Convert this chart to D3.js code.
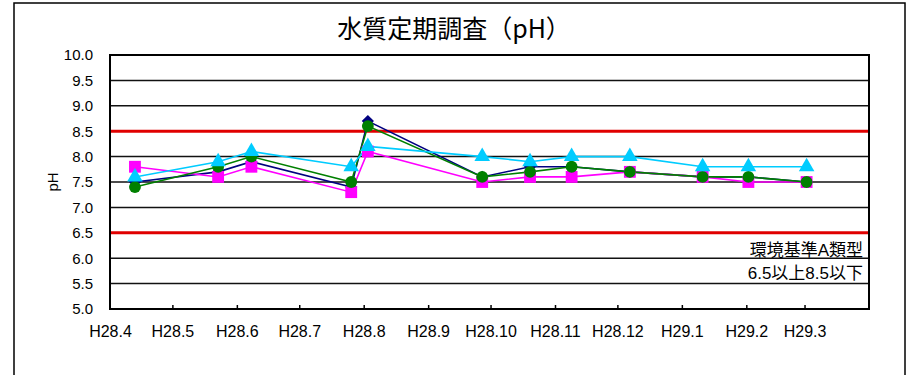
<!DOCTYPE html>
<html>
<head>
<meta charset="utf-8">
<script src="https://cdn.jsdelivr.net/npm/d3@7"></script>
<style>
  html, body { margin: 0; padding: 0; background: #fff; }
  svg { display: block; font-family: "Liberation Sans", Arial, "Noto Sans CJK JP", sans-serif; }
</style>
</head>
<body>
<svg id="chart" width="912" height="375"></svg>
<script>
// Survey dates (FY H28) and pH readings for four sampling points
const sampleDates = ["2016-04-13", "2016-05-23", "2016-06-08", "2016-07-26", "2016-08-03",
                     "2016-09-27", "2016-10-20", "2016-11-09", "2016-12-07", "2017-01-11",
                     "2017-02-02", "2017-03-02"];
const seriesNavy    = [7.5, 7.7, 7.9, 7.4, 8.7, 7.6, 7.8, 7.8, 7.7, 7.6, 7.6, 7.5];
const seriesMagenta = [7.8, 7.6, 7.8, 7.3, 8.1, 7.5, 7.6, 7.6, 7.7, 7.6, 7.5, 7.5];
const seriesGreen   = [7.4, 7.8, 8.0, 7.5, 8.6, 7.6, 7.7, 7.8, 7.7, 7.6, 7.6, 7.5];
const seriesCyan    = [7.6, 7.9, 8.1, 7.8, 8.2, 8.0, 7.9, 8.0, 8.0, 7.8, 7.8, 7.8];

// Environmental standard (class A): 6.5 – 8.5
const standardLimits = [6.5, 8.5];
const yTicks = [5.0, 5.5, 6.0, 6.5, 7.0, 7.5, 8.0, 8.5, 9.0, 9.5, 10.0];
const monthLabels = ["H28.4", "H28.5", "H28.6", "H28.7", "H28.8", "H28.9", "H28.10",
                     "H28.11", "H28.12", "H29.1", "H29.2", "H29.3"];
const titleText = "水質定期調査（pH）";
const yAxisTitle = "pH";
const noteLines = ["環境基準A類型", "6.5以上8.5以下"];

const parse = d3.timeParse("%Y-%m-%d");
const dates = sampleDates.map(parse);

const series = [
  { values: seriesNavy,    color: "#000080", symbol: d3.symbolDiamond2, size: 95 },
  { values: seriesMagenta, color: "#ff00ff", symbol: d3.symbolSquare,   size: 140 },
  { values: seriesGreen,   color: "#008000", symbol: d3.symbolCircle,   size: 110 },
  { values: seriesCyan,    color: "#00ccff", symbol: d3.symbolTriangle, size: 105 }
];

const svg = d3.select("#chart");
const plot = { left: 110, right: 869, top: 55, bottom: 309 };

// Outer chart frame
svg.append("rect")
  .attr("x", 14).attr("y", 3).attr("width", 891).attr("height", 400)
  .attr("fill", "none").attr("stroke", "#000").attr("stroke-width", 1.5);

// Title
svg.append("text")
  .attr("x", 454).attr("y", 38)
  .attr("text-anchor", "middle")
  .attr("font-family", "'Noto Sans CJK JP', sans-serif")
  .attr("font-size", 25)
  .text(titleText);

const x = d3.scaleTime()
  .domain([new Date(2016, 3, 1), new Date(2017, 3, 1)])
  .range([plot.left, plot.right]);
const y = d3.scaleLinear().domain([5, 10]).range([plot.bottom, plot.top]);

// Horizontal gridlines
svg.append("g").selectAll("line")
  .data(yTicks)
  .join("line")
  .attr("x1", plot.left).attr("x2", plot.right)
  .attr("y1", d => y(d)).attr("y2", d => y(d))
  .attr("stroke", "#111").attr("stroke-width", 1.5);

// Standard limit lines
svg.append("g").selectAll("line")
  .data(standardLimits)
  .join("line")
  .attr("x1", plot.left).attr("x2", plot.right)
  .attr("y1", d => y(d)).attr("y2", d => y(d))
  .attr("stroke", "#e00000").attr("stroke-width", 3);

// Plot frame
svg.append("rect")
  .attr("x", plot.left).attr("y", plot.top)
  .attr("width", plot.right - plot.left).attr("height", plot.bottom - plot.top)
  .attr("fill", "none").attr("stroke", "#000").attr("stroke-width", 2);

// Y axis labels
const yAxis = d3.axisLeft(y).tickValues(yTicks).tickSize(0).tickPadding(17)
  .tickFormat(d3.format(".1f"));
const gy = svg.append("g").attr("transform", `translate(${plot.left},0)`).call(yAxis);
gy.select(".domain").remove();
gy.selectAll("text").attr("font-size", 15).attr("font-family", "'Liberation Sans', Arial, sans-serif").attr("fill", "#000");

// X axis: month ticks pointing inward, labels at month starts
const monthStarts = d3.timeMonth.range(new Date(2016, 3, 1), new Date(2017, 3, 1));
const xAxis = d3.axisBottom(x).tickValues(monthStarts).tickSize(0).tickPadding(0)
  .tickFormat((d, i) => monthLabels[i]);
const gx = svg.append("g").attr("transform", `translate(0,${plot.bottom})`).call(xAxis);
gx.select(".domain").remove();
gx.selectAll("text").attr("dy", "1.75em").attr("font-size", 16).attr("font-family", "'Liberation Sans', Arial, sans-serif").attr("fill", "#000");
gx.selectAll(".tick").filter((d, i) => i > 0).append("line")
  .attr("y1", 0).attr("y2", -4).attr("stroke", "#000").attr("stroke-width", 1.5);

// Y axis title
svg.append("text")
  .attr("transform", `translate(58,${(plot.top + plot.bottom) / 2}) rotate(-90)`)
  .attr("text-anchor", "middle")
  .attr("font-size", 15)
  .text(yAxisTitle);

// Standard note
svg.append("g").selectAll("text")
  .data(noteLines)
  .join("text")
  .attr("x", 863)
  .attr("y", (d, i) => 256 + i * 23)
  .attr("text-anchor", "end")
  .attr("font-size", 17)
  .attr("font-family", "'Liberation Sans', Arial, 'Noto Sans CJK JP', sans-serif")
  .text(d => d);

// Series lines and markers
const line = d3.line().x((d, i) => x(dates[i])).y(d => y(d));
series.forEach(s => {
  svg.append("path")
    .attr("d", line(s.values))
    .attr("fill", "none")
    .attr("stroke", s.color)
    .attr("stroke-width", 1.6);
});
series.forEach(s => {
  svg.append("g").selectAll("path")
    .data(s.values)
    .join("path")
    .attr("transform", (d, i) => `translate(${x(dates[i])},${y(d)})`)
    .attr("d", d3.symbol().type(s.symbol).size(s.size))
    .attr("fill", s.color);
});
</script>
</body>
</html>
